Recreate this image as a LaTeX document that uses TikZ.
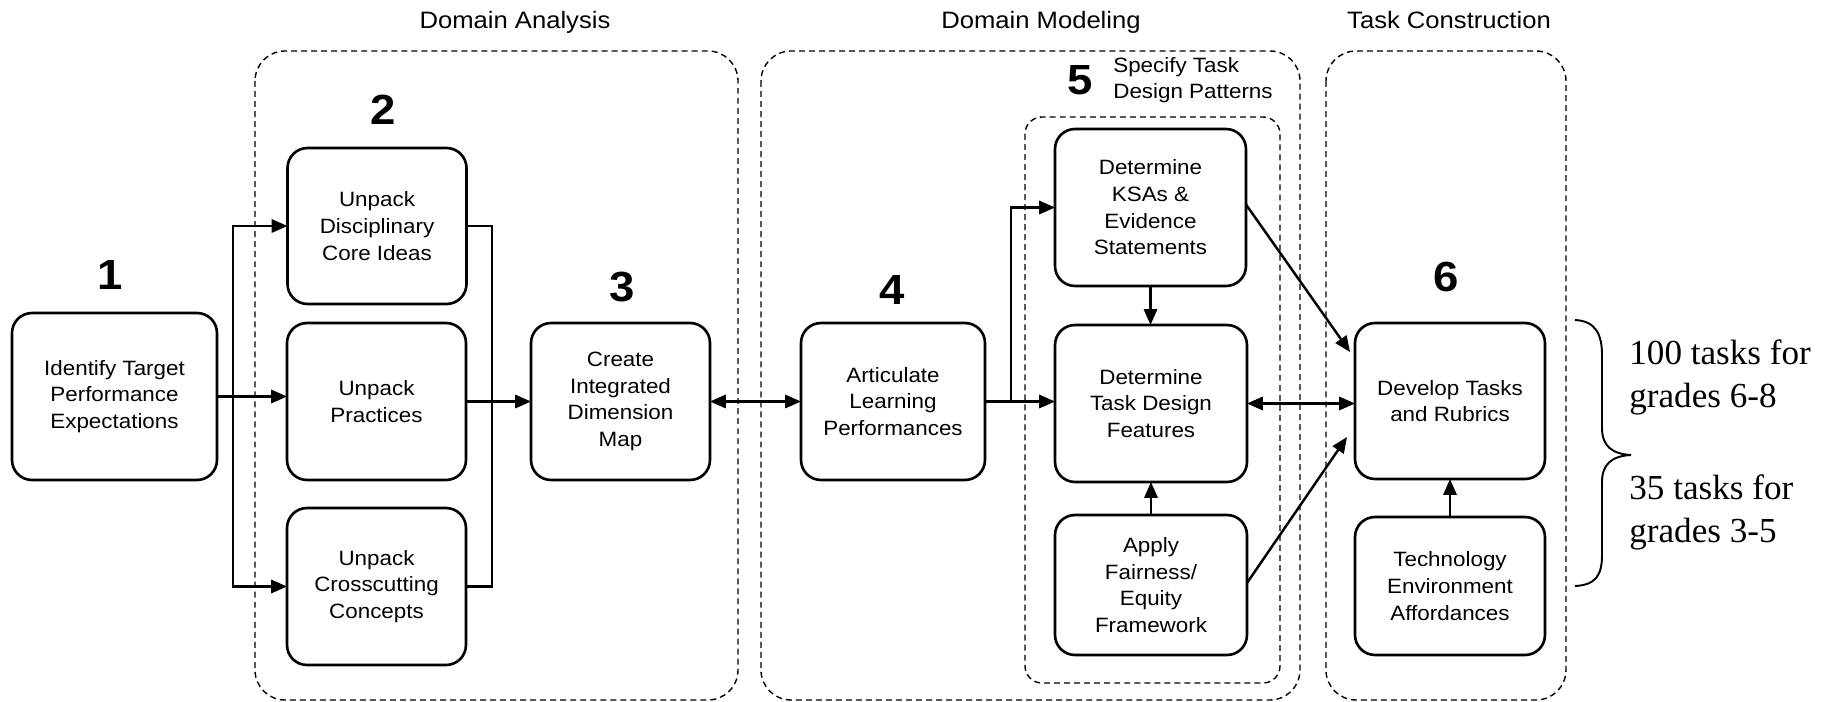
\documentclass[tikz,border=0pt]{standalone}
\usepackage{fontspec}
\setmainfont[FakeStretch=1.08]{Liberation Sans}
\newfontfamily\notefont{Liberation Serif}
\usetikzlibrary{arrows.meta,calc}
\begin{document}
\begin{tikzpicture}[x=0.02cm,y=-0.02cm,
  box/.style={draw, line width=1.5pt, rounded corners=0.4cm, align=center,
    inner sep=0pt, outer sep=0pt, font=\fontsize{11.8}{15.2}\selectfont},
  grp/.style={draw, line width=0.8pt, dash pattern=on 3.4pt off 2.3pt, rounded corners=0.6cm},
  grpin/.style={draw, line width=0.8pt, dash pattern=on 3.4pt off 2.3pt, rounded corners=0.34cm},
  ln/.style={line width=1.4pt},
  arr/.style={ln, -{Triangle[length=9pt,width=7.5pt]}},
  dbl/.style={ln, {Triangle[length=9pt,width=7.5pt]}-{Triangle[length=9pt,width=7.5pt]}},
  num/.style={font=\fontsize{24}{28}\selectfont\bfseries, inner sep=0pt},
  glabel/.style={font=\fontsize{13.5}{16}\selectfont, inner sep=0pt, anchor=base},
  sublabel/.style={font=\fontsize{11.8}{15.2}\selectfont, inner sep=0pt, align=left, anchor=west},
  note/.style={font=\notefont\fontsize{20}{24.5}\selectfont, inner sep=0pt, align=left, anchor=west},
  bracestyle/.style={line width=1.1pt}
]
\useasboundingbox (0,0) rectangle (1827,702);
\fill[white] (0,0) rectangle (1827,702);

% group frames
\draw[grp] (255,51) rectangle (738,700);
\draw[grp] (761,51) rectangle (1300,700);
\draw[grpin] (1025,117) rectangle (1280,683);
\draw[grp] (1326,51) rectangle (1566,700);

% group labels
\node[glabel] (tDA) at (515,29) {Domain Analysis};
\node[glabel] (tDM) at (1041,29) {Domain Modeling};
\node[glabel] (tTC) at (1449,29) {Task Construction};

% step numbers
\node[num] (n1) at (110,275) {1};
\node[num] (n2) at (383,110) {2};
\node[num] (n3) at (622,287) {3};
\node[num] (n4) at (892,290) {4};
\node[num] (n5) at (1080,80) {5};
\node[num] (n6) at (1446,277) {6};
\node[sublabel] (sp) at (1113,80) {Specify Task\\Design Patterns};

% boxes
\node[box, minimum width=4.1cm, minimum height=3.34cm] (b1) at (114.5,396.5) {Identify Target\\Performance\\Expectations};
\node[box, minimum width=3.58cm, minimum height=3.12cm] (b2a) at (377,226) {Unpack\\Disciplinary\\Core Ideas};
\node[box, minimum width=3.58cm, minimum height=3.14cm] (b2b) at (376.5,401.5) {Unpack\\Practices};
\node[box, minimum width=3.58cm, minimum height=3.14cm] (b2c) at (376.5,586.5) {Unpack\\Crosscutting\\Concepts};
\node[box, minimum width=3.58cm, minimum height=3.14cm] (b3) at (620.5,401.5) {Create\\Integrated\\Dimension\\Map};
\node[box, minimum width=3.68cm, minimum height=3.14cm] (b4) at (893,401.5) {Articulate\\Learning\\Performances};
\node[box, minimum width=3.82cm, minimum height=3.14cm] (b5a) at (1150.5,207.5) {Determine\\KSAs \&\\Evidence\\Statements};
\node[box, minimum width=3.84cm, minimum height=3.14cm] (b5b) at (1151,403.5) {Determine\\Task Design\\Features};
\node[box, minimum width=3.84cm, minimum height=2.8cm] (b5c) at (1151,585) {Apply\\Fairness/\\Equity\\Framework};
\node[box, minimum width=3.8cm, minimum height=3.12cm] (b6a) at (1450,401) {Develop Tasks\\and Rubrics};
\node[box, minimum width=3.8cm, minimum height=2.76cm] (b6b) at (1450,586) {Technology\\Environment\\Affordances};

% helper coordinates for the vertical rails
\coordinate (s1) at (233,400);
\coordinate (m1) at (492,400);
\coordinate (br) at (1011,400);

% connectors
\draw[arr] (b1.east) -- (b1.east -| b2b.west);
\draw[dbl] (b2a.west) -- (s1 |- b2a.west) -- (s1 |- b2c.west) -- (b2c.west);
\draw[ln] (b2a.east) -- (m1 |- b2a.east) -- (m1 |- b2c.east) -- (b2c.east);
\draw[arr] (b2b.east) -- (b2b.east -| b3.west);
\draw[dbl] (b3.east) -- (b3.east -| b4.west);
\draw[arr] (b4.east) -- (b4.east -| b5b.west);
\draw[arr] (br |- b4.east) -- (br |- b5a.west) -- (b5a.west);
\draw[arr] (b5a.south) -- (b5a.south |- b5b.north);
\draw[arr] (b5c.north) -- (b5c.north |- b5b.south);
\draw[dbl] (b5b.east) -- (b5b.east -| b6a.west);
\draw[arr] ($(b5a.east)+(0,-3)$) -- ($(b6a.west)+(-5,-49)$);
\draw[arr] ($(b5c.east)+(0,-2)$) -- ($(b6a.west)+(-8,36)$);
\draw[arr] (b6b.north) -- (b6b.north |- b6a.south);

% brace and notes
\draw[bracestyle] (1575,320) .. controls (1596,321) and (1602,335) .. (1602,355)
  -- (1602,428) .. controls (1602,446) and (1612,454) .. (1631,455)
  .. controls (1612,456) and (1602,464) .. (1602,482)
  -- (1602,555) .. controls (1602,575) and (1596,585) .. (1575,586);
\node[note] (t1) at (1629,377) {100 tasks for\\grades 6-8};
\node[note] (t2) at (1629,512) {35 tasks for\\grades 3-5};
\end{tikzpicture}
\end{document}
